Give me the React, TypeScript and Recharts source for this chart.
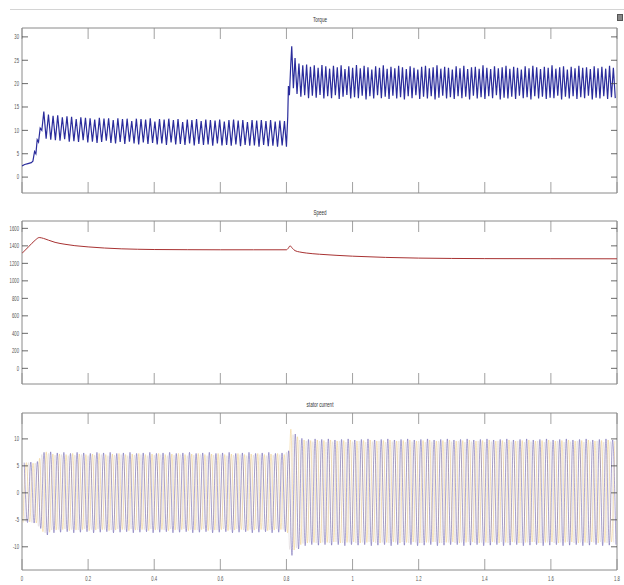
import React from 'react';
import { LineChart, Line, XAxis, YAxis, ReferenceArea } from 'recharts';

// time axis (s)
const X_TICKS = [0, 0.2, 0.4, 0.6, 0.8, 1, 1.2, 1.4, 1.6, 1.8];
const TORQUE_TICKS = [0, 5, 10, 15, 20, 25, 30];
const SPEED_TICKS = [0, 200, 400, 600, 800, 1000, 1200, 1400, 1600];
const CURRENT_TICKS = [-10, -5, 0, 5, 10];

// torque: start-up, ripple before load step, step, ripple after step
const torqueStartT = [0, 0.008, 0.018, 0.028, 0.033, 0.038, 0.042, 0.046, 0.05, 0.055, 0.06, 0.066];
const torqueStartV = [2.4, 2.7, 2.9, 3.1, 3.4, 5.5, 5.0, 8.0, 7.5, 10.5, 10.0, 14.0];
const torqueRipple1Start = 0.073;
const torqueRipple1Step = 0.007;
const torqueRipple1 = [
  8.2, 13.4, 8.0, 13.1, 7.9, 13.2, 7.8, 12.8, 8.1, 13.0,
  7.6, 12.9, 7.7, 12.4, 7.5, 12.8, 7.9, 12.7, 7.4, 12.6,
  7.6, 12.3, 7.3, 12.7, 7.5, 12.5, 7.8, 12.6, 7.3, 12.2,
  7.2, 12.6, 7.5, 12.4, 7.1, 12.5, 7.6, 12.0, 7.2, 12.5,
  7.0, 12.4, 7.4, 12.3, 7.1, 12.6, 7.3, 11.9, 7.0, 12.4,
  7.2, 12.3, 6.9, 12.5, 7.4, 12.2, 7.0, 12.4, 7.1, 11.8,
  6.9, 12.3, 7.2, 12.2, 6.8, 12.4, 7.1, 12.0, 6.9, 12.3,
  7.0, 12.2, 6.7, 12.1, 7.2, 12.3, 6.8, 11.9, 6.9, 12.2,
  6.7, 12.3, 7.0, 12.1, 6.6, 12.2, 6.9, 11.8, 6.7, 12.2,
  6.8, 12.1, 6.5, 12.2, 6.9, 12.0, 6.6, 12.2, 6.7, 11.9,
  6.5, 12.1, 6.8, 12.0,
];
const torqueStepT = [0.8, 0.804, 0.806, 0.809, 0.813, 0.816, 0.821, 0.826];
const torqueStepV = [6.5, 13.0, 19.5, 17.5, 24.0, 28.0, 19.0, 25.5];
const torqueRipple2Start = 0.832;
const torqueRipple2Step = 0.0058;
const torqueRipple2 = [
  17.8, 24.3, 17.2, 23.9, 17.5, 24.1, 16.9, 23.6, 17.4, 23.9,
  17.0, 23.4, 17.6, 24.0, 16.8, 23.7, 17.3, 23.2, 16.9, 23.8,
  17.5, 23.5, 16.7, 23.9, 17.2, 23.1, 17.6, 23.7, 16.8, 23.4,
  17.1, 24.0, 16.9, 23.3, 17.4, 23.8, 16.6, 23.5, 17.3, 23.0,
  16.8, 23.7, 17.5, 23.4, 16.9, 23.9, 17.2, 23.2, 16.7, 23.6,
  17.4, 23.3, 16.8, 23.8, 17.1, 23.5, 16.6, 23.1, 17.3, 23.7,
  16.9, 23.4, 17.5, 23.0, 16.7, 23.6, 17.2, 23.8, 16.8, 23.3,
  17.3, 23.5, 16.6, 23.9, 17.0, 23.2, 17.4, 23.6, 16.8, 23.4,
  17.1, 23.0, 16.7, 23.7, 17.3, 23.3, 16.9, 23.8, 17.2, 23.1,
  16.6, 23.5, 17.4, 23.6, 16.8, 23.2, 17.1, 23.9, 16.7, 23.4,
  17.3, 23.1, 16.9, 23.7, 17.5, 23.3, 16.6, 23.5, 17.0, 23.8,
  16.8, 23.2, 17.2, 23.6, 16.7, 23.4, 17.4, 23.0, 16.9, 23.7,
  17.1, 23.3, 16.6, 23.8, 17.3, 23.5, 16.8, 23.1, 17.2, 23.6,
  16.7, 23.4, 17.0, 23.9, 16.9, 23.2, 17.4, 23.5, 16.6, 23.7,
  17.2, 23.0, 16.8, 23.6, 17.3, 23.3, 16.7, 23.8, 17.1, 23.4,
  16.9, 23.5, 17.4, 23.1, 16.6, 23.7, 17.0, 23.3, 16.8, 23.6,
  17.3, 23.2, 16.7, 23.8, 17.1, 23.4, 16.9,
];

// speed (rpm)
const speedT = [0, 0.02, 0.04, 0.052, 0.065, 0.08, 0.1, 0.13, 0.16, 0.2, 0.25, 0.3, 0.35, 0.4, 0.5, 0.6, 0.7, 0.8,
  0.805, 0.811, 0.818, 0.826, 0.84, 0.86, 0.9, 0.95, 1.0, 1.1, 1.2, 1.3, 1.4, 1.6, 1.8];
const speedV = [1314, 1390, 1465, 1495, 1485, 1465, 1440, 1418, 1402, 1388, 1375, 1366, 1361, 1358, 1356, 1355, 1355, 1355,
  1370, 1400, 1372, 1345, 1330, 1318, 1304, 1292, 1282, 1268, 1260, 1256, 1254, 1253, 1252];

// stator current: peaks / troughs of the three phases, one every half period
const currentHalfPeriod = 0.01;
const phaseStart = [0, 0.00333, 0.00667];
const phaseA = [
  5.4, -5.3, 5.6, -5.5, 5.5, -6.2, 7.1, -7.4, 7.3, -6.9,
  7.0, -6.8, 7.1, -6.7, 6.9, -6.8, 7.0, -6.9, 7.1, -6.7,
  6.9, -6.8, 7.0, -6.7, 7.1, -6.8, 6.9, -6.9, 7.0, -6.7,
  7.1, -6.8, 6.9, -6.7, 7.0, -6.9, 7.1, -6.8, 6.9, -6.7,
  7.0, -6.8, 7.1, -6.9, 6.9, -6.7, 7.0, -6.8, 7.1, -6.7,
  6.9, -6.8, 7.0, -6.9, 7.1, -6.7, 6.9, -6.8, 7.0, -6.9,
  7.1, -6.7, 6.9, -6.8, 7.0, -6.7, 7.1, -6.9, 6.9, -6.8,
  7.0, -6.7, 7.1, -6.8, 6.9, -6.9, 7.0, -6.7, 7.1, -6.8,
  7.5, -10.5, 10.8, -10.2, 9.8, -9.4, 9.6, -9.2, 9.5, -9.3,
  9.6, -9.2, 9.4, -9.3, 9.5, -9.1, 9.6, -9.3, 9.4, -9.2,
  9.5, -9.3, 9.6, -9.2, 9.4, -9.1, 9.5, -9.3, 9.6, -9.2,
  9.4, -9.3, 9.5, -9.2, 9.6, -9.1, 9.4, -9.3, 9.5, -9.2,
  9.6, -9.3, 9.4, -9.2, 9.5, -9.1, 9.6, -9.3, 9.4, -9.2,
  9.5, -9.3, 9.6, -9.2, 9.4, -9.1, 9.5, -9.3, 9.6, -9.2,
  9.4, -9.3, 9.5, -9.2, 9.6, -9.1, 9.4, -9.3, 9.5, -9.2,
  9.6, -9.3, 9.4, -9.2, 9.5, -9.1, 9.6, -9.3, 9.4, -9.2,
  9.5, -9.3, 9.6, -9.2, 9.4, -9.1, 9.5, -9.3, 9.6, -9.2,
  9.4, -9.3, 9.5, -9.2, 9.6, -9.1, 9.4, -9.3, 9.5, -9.2,
];
const phaseB = [
  -5.5, 5.6, -5.4, 5.5, -5.6, 6.4, -7.2, 7.6, -7.3, 7.2,
  -6.9, 7.2, -6.8, 7.1, -7.0, 7.3, -6.9, 7.2, -6.8, 7.1,
  -7.0, 7.2, -6.9, 7.3, -6.8, 7.1, -7.0, 7.2, -6.9, 7.3,
  -6.8, 7.1, -7.0, 7.2, -6.9, 7.3, -6.8, 7.1, -7.0, 7.2,
  -6.9, 7.3, -6.8, 7.1, -7.0, 7.2, -6.9, 7.3, -6.8, 7.1,
  -7.0, 7.2, -6.9, 7.3, -6.8, 7.1, -7.0, 7.2, -6.9, 7.3,
  -6.8, 7.1, -7.0, 7.2, -6.9, 7.3, -6.8, 7.1, -7.0, 7.2,
  -6.9, 7.3, -6.8, 7.1, -7.0, 7.2, -6.9, 7.3, -6.8, 7.1,
  -7.4, 11.8, -10.6, 10.4, -9.6, 9.8, -9.3, 9.7, -9.2, 9.8,
  -9.3, 9.7, -9.2, 9.8, -9.1, 9.6, -9.3, 9.7, -9.2, 9.8,
  -9.1, 9.6, -9.3, 9.7, -9.2, 9.8, -9.1, 9.6, -9.3, 9.7,
  -9.2, 9.8, -9.1, 9.6, -9.3, 9.7, -9.2, 9.8, -9.1, 9.6,
  -9.3, 9.7, -9.2, 9.8, -9.1, 9.6, -9.3, 9.7, -9.2, 9.8,
  -9.1, 9.6, -9.3, 9.7, -9.2, 9.8, -9.1, 9.6, -9.3, 9.7,
  -9.2, 9.8, -9.1, 9.6, -9.3, 9.7, -9.2, 9.8, -9.1, 9.6,
  -9.3, 9.7, -9.2, 9.8, -9.1, 9.6, -9.3, 9.7, -9.2, 9.8,
  -9.1, 9.6, -9.3, 9.7, -9.2, 9.8, -9.1, 9.6, -9.3, 9.7,
  -9.2, 9.8, -9.1, 9.6, -9.3, 9.7, -9.2, 9.8, -9.1, 9.6,
];
const phaseC = [
  5.6, -5.5, 5.7, -5.6, 5.8, -6.6, 7.5, -7.8, 7.6, -7.4,
  7.4, -7.3, 7.5, -7.2, 7.3, -7.4, 7.5, -7.3, 7.4, -7.2,
  7.3, -7.4, 7.5, -7.3, 7.4, -7.2, 7.5, -7.4, 7.3, -7.3,
  7.4, -7.2, 7.5, -7.4, 7.3, -7.3, 7.4, -7.2, 7.5, -7.4,
  7.3, -7.3, 7.4, -7.2, 7.5, -7.4, 7.3, -7.3, 7.4, -7.2,
  7.5, -7.4, 7.3, -7.3, 7.4, -7.2, 7.5, -7.4, 7.3, -7.3,
  7.4, -7.2, 7.5, -7.4, 7.3, -7.3, 7.4, -7.2, 7.5, -7.4,
  7.3, -7.3, 7.4, -7.2, 7.5, -7.4, 7.3, -7.3, 7.4, -7.2,
  7.8, -11.6, 10.9, -10.4, 10.1, -9.8, 9.9, -9.6, 10.0, -9.7,
  9.9, -9.6, 10.0, -9.7, 9.8, -9.6, 9.9, -9.8, 10.0, -9.6,
  9.8, -9.7, 9.9, -9.6, 10.0, -9.8, 9.8, -9.7, 9.9, -9.6,
  10.0, -9.8, 9.8, -9.6, 9.9, -9.7, 10.0, -9.6, 9.8, -9.8,
  9.9, -9.7, 10.0, -9.6, 9.8, -9.8, 9.9, -9.7, 10.0, -9.6,
  9.8, -9.6, 9.9, -9.8, 10.0, -9.7, 9.8, -9.6, 9.9, -9.8,
  10.0, -9.7, 9.8, -9.6, 9.9, -9.8, 10.0, -9.7, 9.8, -9.6,
  9.9, -9.8, 10.0, -9.7, 9.8, -9.6, 9.9, -9.8, 10.0, -9.7,
  9.8, -9.6, 9.9, -9.8, 10.0, -9.7, 9.8, -9.6, 9.9, -9.8,
  10.0, -9.7, 9.8, -9.6, 9.9, -9.8, 10.0, -9.7, 9.8, -9.6,
];

const torqueData = [
  ...torqueStartT.map((t, i) => ({ t, v: torqueStartV[i] })),
  ...torqueRipple1.map((v, i) => ({ t: torqueRipple1Start + i * torqueRipple1Step, v })),
  ...torqueStepT.map((t, i) => ({ t, v: torqueStepV[i] })),
  ...torqueRipple2.map((v, i) => ({ t: torqueRipple2Start + i * torqueRipple2Step, v })),
];
const speedData = speedT.map((t, i) => ({ t, v: speedV[i] }));
const toPhase = (vals: number[], t0: number) => vals.map((v, i) => ({ t: t0 + i * currentHalfPeriod, v }));
const currentA = toPhase(phaseA, phaseStart[0]);
const currentB = toPhase(phaseB, phaseStart[1]);
const currentC = toPhase(phaseC, phaseStart[2]);

const W = 624;
const LEFT = 22;
const RIGHT = 617;
const FONT = '"Liberation Sans", Arial, sans-serif';
const AXIS = '#8a8a8a';

function Panel({ top, height, mTop, mBottom, domain, yTicks, title, xLabels, children }: any) {
  const plotTop = mTop;
  const plotBottom = height - mBottom;

  const xTick = (p: any) => (
    <g>
      <line x1={p.x} x2={p.x} y1={plotBottom} y2={plotBottom - 11} stroke={AXIS} strokeWidth={0.8} />
      <line x1={p.x} x2={p.x} y1={plotTop} y2={plotTop + 11} stroke={AXIS} strokeWidth={0.8} />
      {xLabels && (
        <text transform={`translate(${p.x} ${plotBottom + 11}) scale(0.65 1)`} textAnchor="middle"
          fontSize={6.5} fontFamily={FONT} fill="#555">{String(p.payload.value)}</text>
      )}
    </g>
  );

  const yTick = (p: any) => (
    <g>
      <line x1={LEFT} x2={LEFT + 6} y1={p.y} y2={p.y} stroke="#444" strokeWidth={0.8} />
      <line x1={RIGHT - 6} x2={RIGHT} y1={p.y} y2={p.y} stroke="#444" strokeWidth={0.8} />
      <text transform={`translate(${LEFT - 3} ${p.y}) scale(0.65 1)`} textAnchor="end" dy="0.35em"
        fontSize={6.5} fontFamily={FONT} fill="#555">{String(p.payload.value)}</text>
    </g>
  );

  return (
    <div style={{ position: 'absolute', left: 0, top, width: W, height }}>
      <LineChart width={W} height={height} margin={{ top: mTop, right: W - RIGHT, bottom: 0, left: 0 }}>
        <XAxis dataKey="t" type="number" domain={[0, 1.8]} ticks={X_TICKS} interval={0} height={mBottom}
          axisLine={false} tickLine={false} tick={xTick} allowDataOverflow />
        <YAxis type="number" domain={domain} ticks={yTicks} interval={0} width={LEFT}
          axisLine={false} tickLine={false} tick={yTick} allowDataOverflow />
        <ReferenceArea x1={0} x2={1.8} y1={domain[0]} y2={domain[1]} fill="none" stroke={AXIS}
          strokeWidth={1} ifOverflow="visible" />
        {children}
      </LineChart>
      <div style={{
        position: 'absolute', left: (LEFT + RIGHT) / 2 - 100, width: 200, top: mTop - 12,
        textAlign: 'center', fontFamily: FONT, fontSize: 7, lineHeight: '7px', color: '#333',
        transform: 'scaleX(0.65)',
      }}>{title}</div>
    </div>
  );
}

export default function App() {
  return (
    <div style={{ position: 'absolute', left: 0, top: 0, width: W, height: 585, background: '#fff', overflow: 'hidden' }}>
      <div style={{ position: 'absolute', left: 10, top: 9, width: 614, height: 1, background: '#d4d4d4' }} />
      <div style={{ position: 'absolute', left: 617, top: 14, width: 4, height: 5, background: '#888', border: '1px solid #555' }} />

      <Panel top={0} height={200} mTop={28} mBottom={7} domain={[-3.4, 31.9]} yTicks={TORQUE_TICKS} title="Torque">
        <Line data={torqueData} dataKey="v" type="linear" stroke="#2a2c9c" strokeWidth={1.2} dot={false} isAnimationActive={false} />
      </Panel>

      <Panel top={200} height={192} mTop={21} mBottom={8} domain={[-179, 1684]} yTicks={SPEED_TICKS} title="Speed">
        <Line data={speedData} dataKey="v" type="monotone" stroke="#a83232" strokeWidth={1} dot={false} isAnimationActive={false} />
      </Panel>

      <Panel top={392} height={193} mTop={21} mBottom={15} domain={[-14.3, 14.8]} yTicks={CURRENT_TICKS} title="stator current" xLabels>
        <Line data={currentA} dataKey="v" type="monotone" stroke="#d9d0d2" strokeWidth={0.5} dot={false} isAnimationActive={false} />
        <Line data={currentB} dataKey="v" type="monotone" stroke="#ecc97e" strokeWidth={0.5} dot={false} isAnimationActive={false} />
        <Line data={currentC} dataKey="v" type="monotone" stroke="#5a4ea6" strokeWidth={0.5} dot={false} isAnimationActive={false} />
      </Panel>
    </div>
  );
}
